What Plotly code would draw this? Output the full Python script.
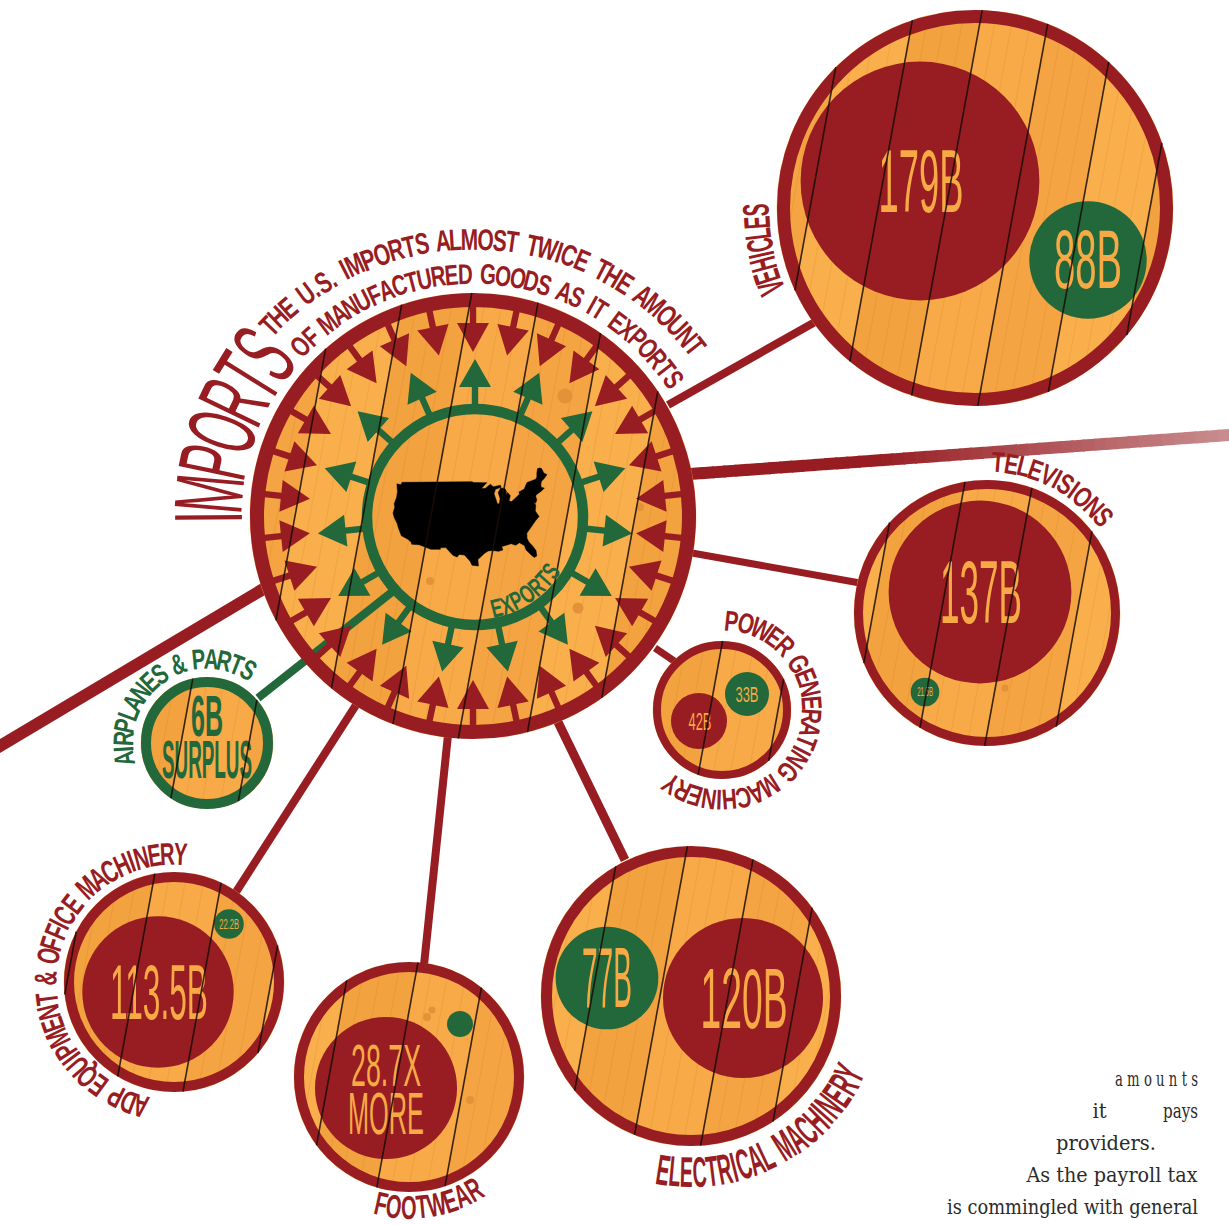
import json, math
import plotly.graph_objects as go

# ---------- data ----------
categories = ["Vehicles", "Televisions", "Power generating machinery",
              "Electrical machinery", "Footwear", "ADP equipment & office machinery"]
imports_b = [179, 137, 42, 120, 106.5, 113.5]
exports_b = [88, 21.5, 33, 77, 19.5, 22.2]
import_labels = ["179B", "137B", "42B", "120B", None, "113.5B"]
export_labels = ["88B", "21.5B", "33B", "77B", None, "22.2B"]
footwear_labels = ["28.7X", "MORE"]
surplus_labels = ["6B", "SURPLUS"]
us_lon = [-124.7,-123.0,-122.8,-95.2,-94.6,-92.0,-89.6,-92.1,-90.5,-88.4,-87.5,-84.8,-84.7,-87.0,-87.9,-87.7,-87.6,-86.9,-86.2,-86.3,-85.0,-83.5,-83.3,-83.9,-82.9,-82.4,-83.1,-83.4,-82.5,-81.0,-79.0,-79.0,-76.8,-76.2,-75.0,-71.5,-70.8,-70.2,-69.2,-68.3,-67.8,-67.8,-67.0,-68.5,-70.0,-70.7,-70.9,-70.0,-71.2,-73.7,-74.0,-74.1,-74.9,-75.5,-75.1,-76.0,-75.8,-75.5,-76.9,-78.0,-79.2,-81.0,-81.4,-81.2,-80.5,-80.0,-80.3,-81.1,-81.8,-82.7,-82.8,-84.0,-85.3,-86.5,-88.0,-89.5,-89.4,-90.8,-92.3,-93.8,-95.0,-97.2,-97.3,-99.1,-99.5,-101.0,-102.6,-103.2,-104.5,-106.5,-108.2,-108.2,-111.07,-114.8,-117.1,-117.3,-118.4,-120.6,-121.9,-122.5,-123.8,-124.4,-124.1,-124.5,-124.0,-124.0]
us_lat = [48.4,48.3,49.0,49.0,48.7,48.3,48.0,46.7,46.6,47.4,46.5,46.5,45.9,45.7,44.6,43.0,41.7,41.7,43.0,44.7,45.7,45.3,44.3,43.7,44.0,43.0,42.1,41.7,41.4,41.9,42.7,43.3,43.6,44.1,45.0,45.0,45.4,46.4,47.45,47.35,47.0,45.7,44.9,44.3,43.8,43.0,42.3,41.9,41.5,41.0,40.6,39.7,38.95,39.5,38.5,37.0,36.0,35.25,34.6,33.9,33.2,32.0,30.7,29.6,28.2,26.8,25.3,25.1,26.1,27.7,29.0,30.1,29.7,30.4,30.3,30.2,29.2,29.1,29.6,29.7,29.2,27.8,26.0,26.4,27.5,29.4,29.7,29.0,29.6,31.75,31.75,31.33,31.33,32.5,32.5,33.0,33.75,34.55,36.6,37.75,39.3,40.4,42.0,42.9,44.7,46.3]
bottom_text = ["a m o u n t s", "it", "pays", "providers.", "As the payroll tax", "is commingled with general"]

# ---------- layout (pixel space of the page) ----------
W_PX, H_PX = 1229, 1226
RED, GREEN, ORANGE, DARK = "#971D22", "#22683A", "#F6A945", "rgba(25,12,6,0.85)"
WOODS = ["#F7AA47", "#F4A442", "#F9AF4C", "#F2A23F"]
NARROW = "Liberation Sans Narrow, Liberation Sans, Arial"
SCALE = 1.334      # bubble diameter in px per $B
SLOPE, SPACING = 0.183, 68

# cx, cy, r, ring width, plank phase
panel_geo = [(975, 208, 198, 13, 946), (987, 613, 133, 9, 941), (722, 710, 69, 8, 710),
             (691, 996, 150, 11, 660), (409, 1077, 115, 10, 397), (174, 982, 110, 10, 135)]
import_xy = [(920, 181), (980, 592), (699, 721), (743, 998), (386, 1088), (158, 992)]
export_xy = [(1088, 260), (925, 692), (747, 694), (607, 978), (460, 1024), (229, 924)]
# label cap height and target width
import_txt = [(62, 85), (62, 82), (17, 23), (60, 87), None, (54, 98)]
export_txt = [(58, 68), (9, 16), (16, 23), (60, 50), None, (10, 20)]
MAIN = (473, 516, 223, 14, 431)
PLANE = (207, 743, 66, 10, 181)

fig = go.Figure()
def add(x, y, **kw):
    fig.add_trace(go.Scatter(x=x, y=y, hoverinfo="skip", showlegend=False, **kw))

def line(p, q, w, c=RED):
    add([p[0], q[0]], [p[1], q[1]], mode="lines", line=dict(color=c, width=w))

# connectors
for p, q, w in [((668, 405), (815, 322), 8), ((557, 720), (625, 860), 9), ((448, 735), (424, 965), 8),
                ((356, 705), (236, 892), 8), ((655, 648), (680, 665), 7), ((692, 553), (860, 583), 7),
                ((265, 588), (-25, 761), 12)]:
    line(p, q, w)
# fading long connector
SEG = 48
for i in range(SEG):
    f0, f1 = i / SEG, (i + 1.15) / SEG
    m = max(0.0, (f0 - 0.33) / 0.67)
    col = "rgb(%d,%d,%d)" % (151 + 52 * m, 29 + 115 * m, 34 + 112 * m)
    line((690 + 539 * f0, 474 - 39 * f0), (690 + 539 * f1, 474 - 39 * f1), 12, col)

def wood(geo):
    cx, cy, r, _, ph = geo
    xs = {c: [] for c in WOODS}; ys = {c: [] for c in WOODS}
    gx, gy = [], []
    steps = max(40, int(r))
    for k in range(-5, 6):
        left_pts, right_pts = [], []
        for i in range(steps + 1):
            y = cy - r + 2 * r * i / steps
            h = math.sqrt(max(r * r - (y - cy) ** 2, 0))
            a = max(cx - h, ph + k * SPACING - SLOPE * (y - cy))
            b = min(cx + h, ph + (k + 1) * SPACING - SLOPE * (y - cy))
            if a < b:
                left_pts.append((a, y)); right_pts.append((b, y))
        if not left_pts:
            continue
        poly = left_pts + right_pts[::-1] + [left_pts[0]]
        c = WOODS[k % 4]
        xs[c] += [p[0] for p in poly] + [None]
        ys[c] += [p[1] for p in poly] + [None]
        for frac in (0.22, 0.47, 0.74):
            prev = False
            for i in range(steps + 1):
                y = cy - r + 2 * r * i / steps
                h = math.sqrt(max(r * r - (y - cy) ** 2, 0))
                x = ph + (k + frac) * SPACING - SLOPE * (y - cy)
                ok = abs(x - cx) < h
                if ok:
                    gx.append(x); gy.append(y)
                elif prev:
                    gx.append(None); gy.append(None)
                prev = ok
            gx.append(None); gy.append(None)
    for c in WOODS:
        if xs[c]:
            add(xs[c], ys[c], mode="lines", fill="toself", fillcolor=c, line=dict(color=c, width=0.5))
    add(gx, gy, mode="lines", line=dict(color="rgba(205,120,30,0.20)", width=1))

def planks(geo):
    cx, cy, r, _, ph = geo
    xs, ys = [], []
    for k in range(-6, 7):
        x0 = ph + k * SPACING
        a = 1 + SLOPE ** 2
        b = 2 * SLOPE * (cx - x0)
        c = (x0 - cx) ** 2 - r * r
        d = b * b - 4 * a * c
        if d <= 0:
            continue
        for t in ((-b - math.sqrt(d)) / (2 * a), (-b + math.sqrt(d)) / (2 * a)):
            xs.append(x0 - SLOPE * t); ys.append(cy + t)
        xs.append(None); ys.append(None)
    return xs, ys

def ring(geo, color):
    cx, cy, r, w, _ = geo
    add([cx], [cy], mode="markers", marker=dict(size=2 * r - w, color="rgba(0,0,0,0)", opacity=1,
                                               line=dict(color=color, width=w)))

all_geo = panel_geo + [MAIN, PLANE]
for g in all_geo:
    wood(g)

# knots in the wood
add([565, 430, 640, 578, 1005, 427, 470, 432], [396, 581, 507, 608, 688, 1017, 1100, 1010], mode="markers",
    marker=dict(size=[15, 8, 8, 11, 7, 8, 8, 7], color="rgb(228,146,58)", opacity=1, line=dict(width=0)))

# green connector of the airplanes panel runs under the main ring
line((258, 698), (392, 592), 8, GREEN)

for g in panel_geo + [MAIN]:
    ring(g, RED)
ring(PLANE, GREEN)

# bubbles: diameter from value
add([p[0] for p in import_xy], [p[1] for p in import_xy], mode="markers",
    marker=dict(size=[v * SCALE for v in imports_b], color=RED, opacity=1, line=dict(width=0)))
add([p[0] for p in export_xy], [p[1] for p in export_xy], mode="markers",
    marker=dict(size=[v * SCALE for v in exports_b], color=GREEN, opacity=1, line=dict(width=0)))

# arrows
def arrows(count, start, base, tip, stem_from, hw, color, cx, cy):
    xs, ys = [], []
    for i in range(count):
        t = math.radians(start + i * 360 / count)
        ux, uy = math.cos(t), -math.sin(t)
        vx, vy = -uy, ux
        pts = [(stem_from, -3.2), (base, -3.2), (base, -hw), (tip, 0), (base, hw), (base, 3.2), (stem_from, 3.2), (stem_from, -3.2)]
        xs += [cx + ux * a + vx * b for a, b in pts] + [None]
        ys += [cy + uy * a + vy * b for a, b in pts] + [None]
    return xs, ys
xs, ys = arrows(30, 90, 193, 164, 214, 16, RED, 473, 516)
add(xs, ys, mode="lines", fill="toself", fillcolor=RED, line=dict(color=RED, width=0))
xs, ys = arrows(15, 90, 130, 158, 108, 16, GREEN, 475, 517)
add(xs, ys, mode="lines", fill="toself", fillcolor=GREEN, line=dict(color=GREEN, width=0))
add([475], [517], mode="markers", marker=dict(size=216, color="rgba(0,0,0,0)", opacity=1, line=dict(color=GREEN, width=10.5)))

# US map (conic projection fitted to its place in the picture)
def albers(lon, lat):
    p1, p2, p0, l0 = map(math.radians, (29.5, 45.5, 37.5, -110))
    n = (math.sin(p1) + math.sin(p2)) / 2
    C = math.cos(p1) ** 2 + 2 * n * math.sin(p1)
    r0 = math.sqrt(C - 2 * n * math.sin(p0)) / n
    r = math.sqrt(C - 2 * n * math.sin(math.radians(lat))) / n
    th = n * (math.radians(lon) - l0)
    return r * math.sin(th), r0 - r * math.cos(th)
proj = [albers(a, b) for a, b in zip(us_lon, us_lat)]
mnx, mxx = min(p[0] for p in proj), max(p[0] for p in proj)
mny, mxy = min(p[1] for p in proj), max(p[1] for p in proj)
mx = [393 + (p[0] - mnx) / (mxx - mnx) * 154 for p in proj]
my = [566 - (p[1] - mny) / (mxy - mny) * 98 for p in proj]
add(mx + mx[:1], my + my[:1], mode="lines", fill="toself", fillcolor="#000000", line=dict(color="#000000", width=0.5))

# straight labels, real text inside the discs
widths = {}
def label(txt, xy, cap, w, color, weight=400):
    widths[txt] = w
    add([xy[0]], [xy[1] + cap * 0.12], mode="text", text=[txt], textposition="middle center",
        textfont=dict(family=NARROW, size=cap / 0.70, color=color, weight=weight))
for i in range(len(categories)):
    if import_labels[i]:
        label(import_labels[i], (import_xy[i][0] + 1, import_xy[i][1] + 1), *import_txt[i], ORANGE)
    if export_labels[i]:
        label(export_labels[i], (export_xy[i][0], export_xy[i][1]), *export_txt[i], ORANGE)
label(footwear_labels[0], (386, 1066), 42, 70, ORANGE)
label(footwear_labels[1], (386, 1114), 42, 76, ORANGE)
label(surplus_labels[0], (207, 717), 40, 32, GREEN, 700)
label(surplus_labels[1], (207, 760), 38, 90, GREEN, 700)

# dark gaps between the planks, above everything inside a disc
px, py = [], []
for g in all_geo:
    a, b = planks(g)
    px += a; py += b
add(px, py, mode="lines", line=dict(color=DARK, width=1.6))

# curved captions, one real letter at a time
annotations, scales = [], []
GLYPH = dict(A=.547, B=.547, C=.592, D=.592, E=.547, F=.5, G=.638, H=.592, I=.228, J=.41, K=.547, L=.456,
             M=.683, N=.592, O=.638, P=.547, Q=.638, R=.592, S=.547, T=.5, U=.592, V=.547, W=.774, X=.547,
             Y=.547, Z=.5)
GLYPH.update({" ": .3, ".": .228, "&": .59})
TRACK = 0.09
def arc(text, cx, cy, r, a0, a1, cap, color, inner=False, weight=700):
    size = cap / 0.70
    ws = [GLYPH[c] + TRACK for c in text]
    tot = sum(ws)
    arclen = abs(a1 - a0) * math.pi / 180 * r
    sx = arclen / (tot * size)
    acc = 0
    for c, w in zip(text, ws):
        th = a0 + (a1 - a0) * (acc + w / 2) / tot
        acc += w
        if c == " ":
            continue
        t = math.radians(th)
        rot = -(th + 90) if inner else 90 - th
        annotations.append(dict(x=cx + r * math.cos(t), y=cy - r * math.sin(t), xref="x", yref="y",
                                text=c, showarrow=False, textangle=rot, xanchor="center", yanchor="middle",
                                font=dict(family=NARROW, size=size, color=color, weight=weight), borderpad=0))
        scales.append(round(sx, 3))

arc("IMPORTS", 473, 516, 265, 182, 139, 68, RED, weight=400)
arc("THE U.S. IMPORTS ALMOST TWICE THE AMOUNT", 473, 522, 283, 137.5, 37, 21, RED)
arc("OF MANUFACTURED GOODS AS IT EXPORTS", 473, 517, 243, 137, 33, 20, RED)
arc("EXPORTS", 473, 516, 95, -79, -32, 18, GREEN, inner=True)
arc(categories[0].upper(), 975, 208, 219, 203, 179, 26, RED)
arc(categories[1].upper(), 987, 613, 151, 88, 37, 20, RED)
arc(categories[2].upper(), 722, 710, 90, 88, -129, 20, RED)
arc(categories[3].upper(), 691, 996, 176, -101, -24, 30, RED, inner=True)
arc(categories[4].upper(), 409, 1077, 130, -105, -57, 23, RED, inner=True)
arc(categories[5].upper(), 174, 982, 128, 258, 84, 22, RED)
arc("AIRPLANES & PARTS", 207, 743, 84, 195, 56, 20, GREEN)

# running text clipped from the page
serif = "DejaVu Serif, Liberation Serif"
for txt, x, y, w in [(bottom_text[0], 1156.5, 1081, 83), (bottom_text[1], 1099.5, 1113, 15), (bottom_text[2], 1180.5, 1113, 35),
                     (bottom_text[3], 1106, 1145, 100), (bottom_text[4], 1112, 1177, 172), (bottom_text[5], 1072.5, 1209, 251)]:
    widths[txt] = w
    add([x], [y], mode="text", text=[txt], textposition="middle center",
        textfont=dict(family=serif, size=20, color="#2B2B2B"))

fig.update_layout(width=W_PX, height=H_PX, margin=dict(l=0, r=0, t=0, b=0), paper_bgcolor="white",
                  plot_bgcolor="white", showlegend=False, annotations=annotations, hovermode=False,
                  xaxis=dict(range=[0, W_PX], visible=False, fixedrange=True),
                  yaxis=dict(range=[H_PX, 0], visible=False, fixedrange=True))

post = """
document.body.style.margin='0';document.body.style.overflow='hidden';
var WD=%s,SC=%s;
function squeeze(t,s){t.style.transformBox='fill-box';t.style.transformOrigin='center';t.style.transform='scaleX('+s+')';}
function applyAll(){
document.querySelectorAll('.textpoint text').forEach(function(t){var w=WD[t.textContent];if(w){squeeze(t,w/t.getBBox().width);}});
document.querySelectorAll('.annotation').forEach(function(a){var i=+a.getAttribute('data-index');var t=a.querySelector('text');if(t){squeeze(t,SC[i]);}});
}
applyAll();setTimeout(applyAll,200);
""" % (json.dumps(widths), json.dumps(scales))

fig.write_html("out.html", post_script=post, config=dict(displayModeBar=False))
